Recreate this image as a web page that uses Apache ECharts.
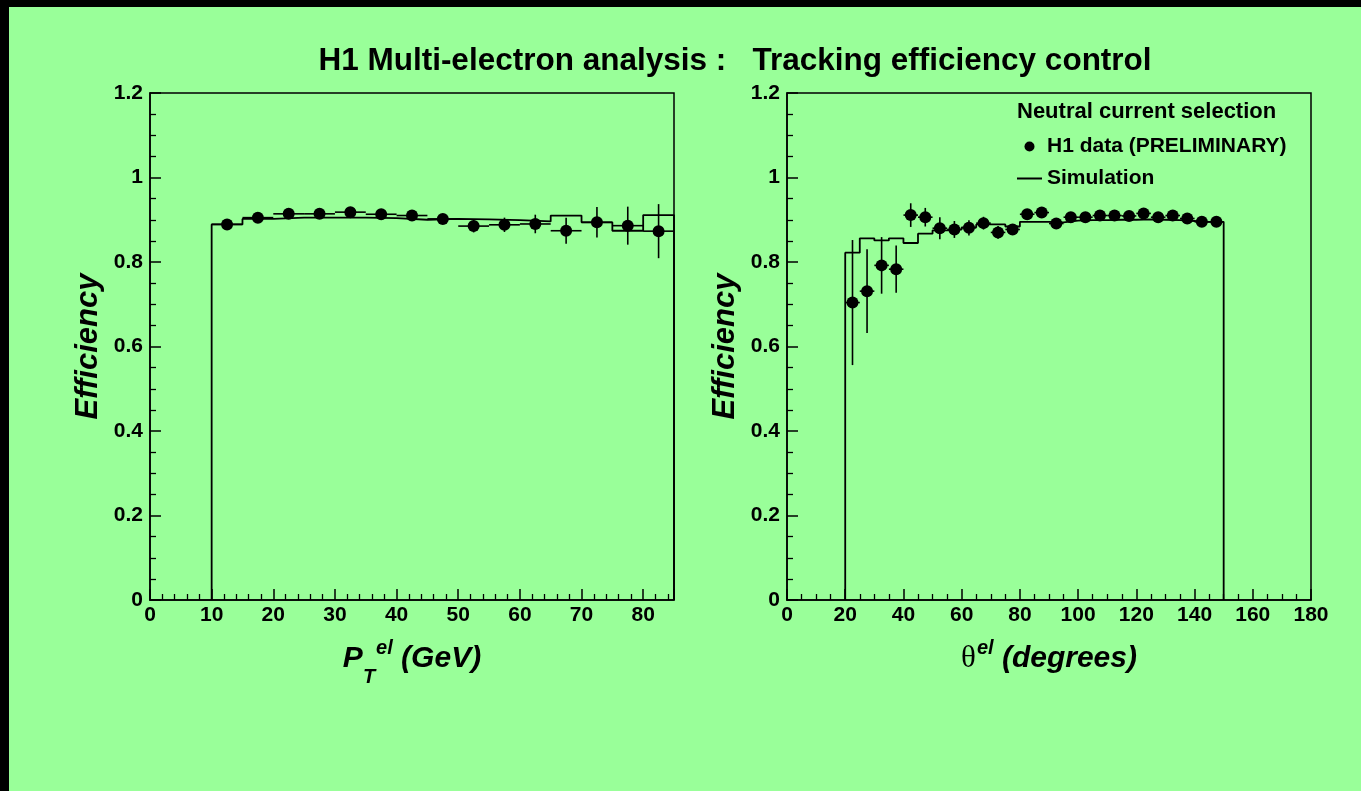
<!DOCTYPE html>
<html>
<head>
<meta charset="utf-8">
<script src="https://cdn.jsdelivr.net/npm/echarts@6/dist/echarts.min.js"></script>
<style>
  html, body { margin: 0; padding: 0; background: #000; width: 1361px; height: 791px; overflow: hidden; }
  #chart { position: absolute; left: 9px; top: 7px; width: 1352px; height: 784px; background: #99ff99; }
</style>
</head>
<body>
<div id="chart"></div>
<script>
// Electron transverse momentum binning (GeV) and measured / simulated efficiencies
const ptEdges = [10, 15, 20, 25, 30, 35, 40, 45, 50, 55, 60, 65, 70, 75, 80, 85];
const ptData  = [0.889, 0.905, 0.914, 0.914, 0.918, 0.913, 0.910, 0.902, 0.885, 0.888, 0.890, 0.874, 0.894, 0.886, 0.873];
const ptErr   = [0.004, 0.004, 0.004, 0.004, 0.004, 0.005, 0.005, 0.008, 0.015, 0.017, 0.022, 0.031, 0.036, 0.045, 0.064];
const ptSim   = [0.889, 0.902, 0.905, 0.905, 0.905, 0.904, 0.900, 0.902, 0.901, 0.899, 0.896, 0.910, 0.894, 0.874, 0.911];

// Electron polar angle binning (degrees)
const thEdges = [20, 25, 30, 35, 40, 45, 50, 55, 60, 65, 70, 75, 80, 85, 90, 95, 100, 105, 110, 115, 120, 125, 130, 135, 140, 145, 150];
const thData  = [0.704, 0.731, 0.792, 0.783, 0.911, 0.906, 0.880, 0.877, 0.881, 0.892, 0.870, 0.877, 0.913,
                 0.917, 0.891, 0.906, 0.906, 0.910, 0.910, 0.909, 0.915, 0.906, 0.910, 0.903, 0.895, 0.895];
const thErr   = [0.148, 0.099, 0.067, 0.056, 0.028, 0.022, 0.026, 0.020, 0.018, 0.015, 0.015, 0.013, 0.008,
                 0.008, 0.006, 0.006, 0.006, 0.006, 0.006, 0.006, 0.006, 0.006, 0.006, 0.005, 0.005, 0.005];
const thSim   = [0.822, 0.856, 0.851, 0.856, 0.845, 0.867, 0.875, 0.877, 0.882, 0.889, 0.889, 0.884, 0.895,
                 0.895, 0.894, 0.898, 0.899, 0.899, 0.900, 0.900, 0.901, 0.900, 0.899, 0.897, 0.895, 0.895];

const yTicks = [0, 0.2, 0.4, 0.6, 0.8, 1, 1.2];

const FONT = "'Liberation Sans', Arial, Helvetica, sans-serif";
const DATA_NAME = 'H1 data (PRELIMINARY)';
const SIM_NAME = 'Simulation';

// data points: [centre, value, error, half bin width]
function points(edges, vals, errs) {
  return vals.map((v, i) => [(edges[i] + edges[i + 1]) / 2, v, errs[i], (edges[i + 1] - edges[i]) / 2]);
}
// histogram outline as a stepped polyline, closed down to zero at both ends
function histPath(edges, vals) {
  const p = [[edges[0], 0]];
  vals.forEach((v, i) => { p.push([edges[i], v]); p.push([edges[i + 1], v]); });
  p.push([edges[edges.length - 1], 0]);
  return p;
}

function errorBars(params, api) {
  const x = api.value(0), y = api.value(1), e = api.value(2), hw = api.value(3);
  const t = api.coord([x, y + e]), b = api.coord([x, y - e]);
  const l = api.coord([x - hw, y]), r = api.coord([x + hw, y]);
  const st = { stroke: '#000', lineWidth: 1.6 };
  return {
    type: 'group',
    children: [
      { type: 'line', shape: { x1: t[0], y1: t[1], x2: b[0], y2: b[1] }, style: st },
      { type: 'line', shape: { x1: l[0], y1: l[1], x2: r[0], y2: r[1] }, style: st }
    ]
  };
}

const tickLabel = { color: '#000', fontFamily: FONT, fontWeight: 'bold', fontSize: 21 };

function xAxis(idx, max, interval, minorSplit, name, rich) {
  return {
    type: 'value', gridIndex: idx, min: 0, max: max, interval: interval,
    axisLine: { show: true, onZero: false, lineStyle: { color: '#000', width: 1.5 } },
    axisTick: { show: true, inside: true, length: 11, lineStyle: { color: '#000', width: 1.5 } },
    minorTick: { show: true, splitNumber: minorSplit, length: 6, lineStyle: { color: '#000', width: 1.3 } },
    splitLine: { show: false },
    axisLabel: Object.assign({ margin: 5, showMaxLabel: max % interval === 0 }, tickLabel),
    name: name, nameLocation: 'middle', nameGap: 31,
    nameTextStyle: { color: '#000', rich: rich }
  };
}
function yAxis(idx) {
  return {
    type: 'value', gridIndex: idx, min: yTicks[0], max: yTicks[yTicks.length - 1], interval: yTicks[1] - yTicks[0],
    axisLine: { show: true, onZero: false, lineStyle: { color: '#000', width: 1.5 } },
    axisTick: { show: true, inside: true, length: 11, lineStyle: { color: '#000', width: 1.5 } },
    minorTick: { show: true, splitNumber: 4, length: 6, lineStyle: { color: '#000', width: 1.3 } },
    splitLine: { show: false },
    axisLabel: Object.assign({ margin: 7 }, tickLabel),
    name: 'Efficiency', nameLocation: 'middle', nameRotate: 90, nameGap: 46,
    nameTextStyle: { color: '#000', fontFamily: FONT, fontWeight: 'bold', fontStyle: 'italic', fontSize: 31 }
  };
}

const bi = { fontFamily: FONT, fontWeight: 'bold', fontStyle: 'italic', color: '#000' };
const ptRich = {
  p:   Object.assign({ fontSize: 30, lineHeight: 56, verticalAlign: 'middle' }, bi),
  sub: Object.assign({ fontSize: 20, lineHeight: 20, verticalAlign: 'bottom' }, bi),
  sup: Object.assign({ fontSize: 20, lineHeight: 20, verticalAlign: 'top', padding: [7, 0, 0, 1] }, bi),
  t:   Object.assign({ fontSize: 30, lineHeight: 56, verticalAlign: 'middle' }, bi)
};
const thRich = {
  th:  { fontFamily: "'Liberation Serif', 'DejaVu Serif', serif", fontSize: 31, lineHeight: 56, verticalAlign: 'middle', color: '#000' },
  sup: Object.assign({ fontSize: 20, lineHeight: 20, verticalAlign: 'top', padding: [7, 0, 0, 1] }, bi),
  t:   Object.assign({ fontSize: 30, lineHeight: 56, verticalAlign: 'middle' }, bi)
};

function seriesFor(idx, edges, vals, errs, sim) {
  const pts = points(edges, vals, errs);
  return [
    {
      name: SIM_NAME, type: 'line', xAxisIndex: idx, yAxisIndex: idx,
      data: histPath(edges, sim), showSymbol: false, symbol: 'none',
      lineStyle: { color: '#000', width: 1.8 }, itemStyle: { color: '#000' }, z: 2
    },
    {
      name: DATA_NAME + ' errors', type: 'custom', xAxisIndex: idx, yAxisIndex: idx,
      data: pts, renderItem: errorBars, z: 3
    },
    {
      name: DATA_NAME, type: 'scatter', xAxisIndex: idx, yAxisIndex: idx,
      data: pts.map(p => [p[0], p[1]]), symbol: 'circle', symbolSize: 12,
      itemStyle: { color: '#000', opacity: 1 }, z: 4
    }
  ];
}

const chart = echarts.init(document.getElementById('chart'), null, { renderer: 'canvas' });
chart.setOption({
  animation: false,
  backgroundColor: '#99ff99',
  grid: [
    { left: 141, top: 86, width: 524, height: 507, show: true, borderColor: '#000', borderWidth: 1.5, outerBoundsMode: 'none' },
    { left: 778, top: 86, width: 524, height: 507, show: true, borderColor: '#000', borderWidth: 1.5, outerBoundsMode: 'none' }
  ],
  xAxis: [
    xAxis(0, 85, 10, 5, '{p|P}{sub|T}{sup|el}{t| (GeV)}', ptRich),
    xAxis(1, 180, 20, 4, '{th|θ}{sup|el}{t| (degrees)}', thRich)
  ],
  yAxis: [yAxis(0), yAxis(1)],
  legend: {
    orient: 'vertical', left: 1008, top: 129, itemGap: 11, padding: 0,
    itemWidth: 25, itemHeight: 10,
    textStyle: { color: '#000', fontFamily: FONT, fontWeight: 'bold', fontSize: 21, lineHeight: 20 },
    selectedMode: false,
    data: [
      { name: DATA_NAME, icon: 'circle' },
      { name: SIM_NAME, icon: 'path://M0 0H25V2H0Z' }
    ]
  },
  graphic: [
    {
      type: 'text', x: 726, y: 54,
      style: { text: 'H1 Multi-electron analysis :   Tracking efficiency control', fill: '#000',
               font: "bold 31.5px " + FONT, align: 'center', verticalAlign: 'middle' }
    },
    {
      type: 'text', x: 1008, y: 105,
      style: { text: 'Neutral current selection', fill: '#000',
               font: "bold 22px " + FONT, align: 'left', verticalAlign: 'middle' }
    }
  ],
  series: [].concat(
    seriesFor(0, ptEdges, ptData, ptErr, ptSim),
    seriesFor(1, thEdges, thData, thErr, thSim)
  )
});
</script>
</body>
</html>
